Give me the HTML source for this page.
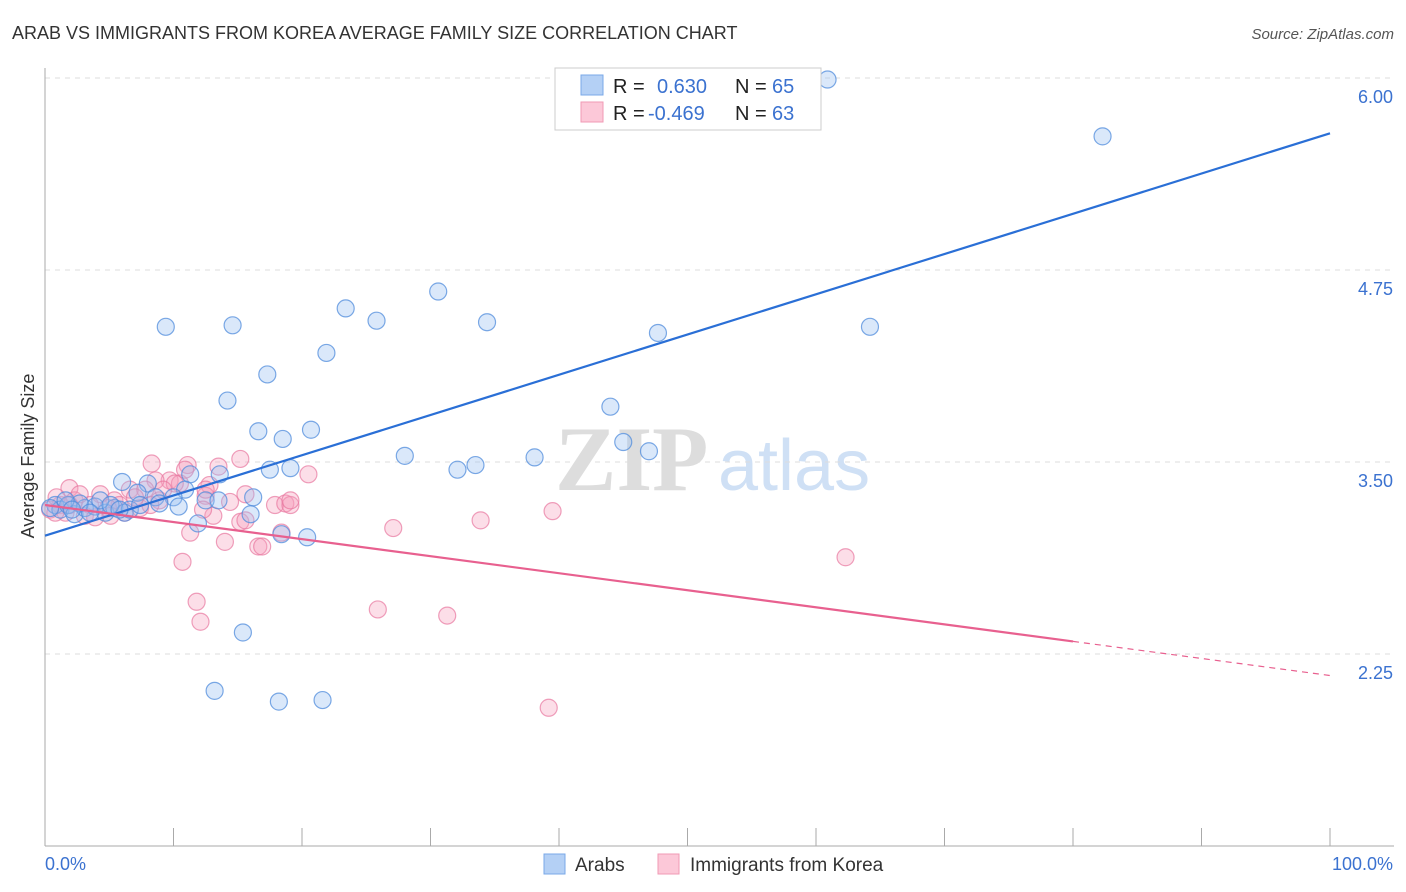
<!DOCTYPE html>
<html><head><meta charset="utf-8"><style>
body{margin:0;background:#fff;font-family:"Liberation Sans",sans-serif;}
svg{display:block}
</style></head><body>
<svg id="chart" width="1406" height="892" viewBox="0 0 1406 892">
<text x="12" y="39" font-size="18" fill="#333">ARAB VS IMMIGRANTS FROM KOREA AVERAGE FAMILY SIZE CORRELATION CHART</text>
<text x="1394" y="39" font-size="15" fill="#555" font-style="italic" text-anchor="end">Source: ZipAtlas.com</text>
<g>
<text x="555" y="490" font-size="92" font-family="Liberation Serif" fill="#ddd" font-weight="bold">ZIP</text>
<text x="718" y="490" font-size="72" fill="#cfe0f5">atlas</text>
</g>
<g id="grid"></g>
<g id="axes"></g>
<text transform="translate(34,456) rotate(-90)" font-size="18" fill="#333" text-anchor="middle">Average Family Size</text>
<g id="marks"></g>
<g id="lines"></g>
<g>
<rect x="555" y="68" width="266" height="62" fill="#fff" stroke="#ccc"/>
<rect x="581" y="75" width="22" height="20" fill="#b4d0f5" stroke="#7aa8e8"/>
<rect x="581" y="102" width="22" height="20" fill="#fcc8d8" stroke="#f09ab4"/>
<text x="613" y="93" font-size="20" fill="#222">R = </text><text x="657" y="93" font-size="20" fill="#3b72d0">0.630</text>
<text x="735" y="93" font-size="20" fill="#222">N = </text><text x="772" y="93" font-size="20" fill="#3b72d0">65</text>
<text x="613" y="120" font-size="20" fill="#222">R = </text><text x="648" y="120" font-size="20" fill="#3b72d0">-0.469</text>
<text x="735" y="120" font-size="20" fill="#222">N = </text><text x="772" y="120" font-size="20" fill="#3b72d0">63</text>
</g>
<g>
<rect x="544" y="854" width="21" height="20" fill="#b4d0f5" stroke="#7aa8e8"/>
<text x="575" y="871" font-size="19" fill="#333">Arabs</text>
<rect x="658" y="854" width="21" height="20" fill="#fcc8d8" stroke="#f09ab4"/>
<text x="690" y="871" font-size="19" fill="#333">Immigrants from Korea</text>
</g>
</svg>
<script>
const yTicks=[6.00,4.75,3.50,2.25];
const xTickCount=10;
const arabsX=[60.9,82.3,30.6,23.4,9.4,14.6,25.8,34.4,47.7,64.2,21.9,17.3,14.2,44.0,20.7,16.6,18.5,45.0,47.0,28.0,38.1,33.5,32.1,17.5,19.1,6.0,11.3,13.6,8.0,10.9,16.2,7.2,8.6,10.0,12.5,13.5,10.4,16.0,11.9,18.4,20.4,15.4,13.2,18.2,21.6,0.8,1.2,1.8,2.3,3.1,3.9,4.7,5.4,6.2,6.6,4.3,2.7,1.6,0.4,5.1,3.5,7.4,8.9,5.8,2.1];
const arabsY=[5.99,5.62,4.61,4.50,4.38,4.39,4.42,4.41,4.34,4.38,4.21,4.07,3.90,3.86,3.71,3.70,3.65,3.63,3.57,3.54,3.53,3.48,3.45,3.45,3.46,3.37,3.42,3.42,3.36,3.32,3.27,3.30,3.27,3.27,3.25,3.25,3.21,3.16,3.10,3.03,3.01,2.39,2.01,1.94,1.95,3.22,3.19,3.22,3.16,3.20,3.21,3.17,3.20,3.17,3.19,3.25,3.23,3.25,3.20,3.22,3.17,3.22,3.23,3.19,3.19];
const koreaX=[8.3,11.1,15.2,13.5,20.5,9.7,8.6,1.9,10.5,12.8,15.6,17.9,18.7,19.1,12.5,13.1,15.2,11.3,14.0,16.6,16.9,10.7,11.8,12.1,25.9,31.3,39.2,27.1,33.9,39.5,62.3,6.6,4.3,5.4,3.5,1.2,0.4,2.3,3.1,3.9,7.4,5.8,8.9,10.1,7.8,12.5,14.4,6.2,4.9,1.6,2.7,7.0,0.9,5.1,8.2,15.6,18.4,12.3,9.2,10.9,19.1,1.9,0.8];
const koreaY=[3.49,3.48,3.52,3.47,3.42,3.38,3.38,3.33,3.36,3.35,3.29,3.22,3.23,3.22,3.28,3.15,3.11,3.04,2.98,2.95,2.95,2.85,2.59,2.46,2.54,2.50,1.90,3.07,3.12,3.18,2.88,3.32,3.29,3.25,3.22,3.22,3.19,3.25,3.15,3.14,3.20,3.22,3.25,3.36,3.32,3.32,3.24,3.17,3.20,3.17,3.29,3.27,3.27,3.15,3.22,3.12,3.04,3.19,3.32,3.45,3.25,3.22,3.17];
const arabsTrend=[3.02,5.64];
const koreaTrend=[3.22,2.11];
const koreaSolidEnd=80;
const NS="http://www.w3.org/2000/svg";
function sx(v){return 45+v*12.85;}
function sy(v){return 846-(v-1)*153.6;}
function mk(t,a,p){const e=document.createElementNS(NS,t);for(const k in a)e.setAttribute(k,a[k]);p.appendChild(e);return e;}
const grid=document.getElementById('grid'),axes=document.getElementById('axes'),marks=document.getElementById('marks'),lines=document.getElementById('lines');
yTicks.forEach(v=>{
 const l=mk('line',{x1:45,x2:1394,y1:sy(v),y2:sy(v),stroke:'#ddd','stroke-dasharray':'5,5'},grid);
 
 
 const t=mk('text',{x:1393,y:sy(v)+25,'font-size':18,fill:'#3b72d0','text-anchor':'end'},axes);t.textContent=v.toFixed(2);
 
 
});
const xa=mk('line',{x1:45,x2:1394,y1:846,y2:846,stroke:'#aaa'},axes);


const ya=mk('line',{x1:45,x2:45,y1:68,y2:846,stroke:'#aaa'},axes);


for(let i=0;i<=xTickCount;i++){const x=sx(i*100/xTickCount);const t=mk('line',{x1:x,x2:x,y1:828,y2:846,stroke:'#aaa'},axes);
 
 }
const x0=mk('text',{x:45,y:870,'font-size':18,fill:'#3b72d0'},axes);x0.textContent='0.0%';


const x1=mk('text',{x:1393,y:870,'font-size':18,fill:'#3b72d0','text-anchor':'end'},axes);x1.textContent='100.0%';


koreaX.forEach((v,i)=>{const c=mk('circle',{cx:sx(v),cy:sy(koreaY[i]),r:8.5,fill:'rgba(245,160,188,0.35)',stroke:'rgba(232,120,160,0.7)','stroke-width':1.2},marks);
 
 });
arabsX.forEach((v,i)=>{const c=mk('circle',{cx:sx(v),cy:sy(arabsY[i]),r:8.5,fill:'rgba(150,190,240,0.35)',stroke:'rgba(80,140,220,0.75)','stroke-width':1.2},marks);
 
 });
const bl=mk('line',{x1:sx(0),y1:sy(arabsTrend[0]),x2:sx(100),y2:sy(arabsTrend[1]),stroke:'#2a6fd6','stroke-width':2.2},lines);


const ky=koreaTrend[0]+(koreaTrend[1]-koreaTrend[0])*koreaSolidEnd/100;
const pl=mk('line',{x1:sx(0),y1:sy(koreaTrend[0]),x2:sx(koreaSolidEnd),y2:sy(ky),stroke:'#e8608f','stroke-width':2.2},lines);


const pd=mk('line',{x1:sx(koreaSolidEnd),y1:sy(ky),x2:sx(100),y2:sy(koreaTrend[1]),stroke:'#e8608f','stroke-width':1.2,'stroke-dasharray':'6,5'},lines);


</script>
</body></html>
